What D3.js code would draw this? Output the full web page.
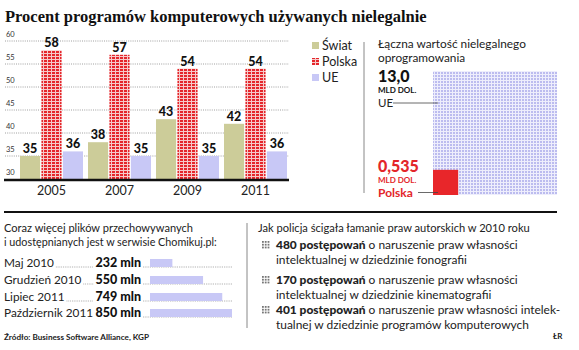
<!DOCTYPE html>
<html><head><meta charset="utf-8">
<script src="https://cdn.jsdelivr.net/npm/d3@7"></script>
<style>
body{margin:0;background:#fff;}
svg{display:block;font-family:Lato,"Open Sans",sans-serif;}
</style></head>
<body>
<script>
const years = ["2005","2007","2009","2011"];
const seriesNames = ["Świat","Polska","UE"];
const swiat = [35,38,43,42];
const polska = [58,57,54,54];
const ue = [36,35,35,36];
const yTicks = [30,35,40,45,50,55,60];

const valueLabels = ["UE","Polska"];
const valueAmounts = [13.0,0.535];
const valueTexts = ["13,0","0,535"];

const chomikMonths = ["Maj 2010","Grudzień 2010","Lipiec 2011","Październik 2011"];
const chomikFiles = [232,550,749,850];

const policeCounts = ["480","170","401"];
const policeLine1 = [" o naruszenie praw własności"," o naruszenie praw własności"," o naruszenie praw własności intelek-"];
const policeLine2 = ["intelektualnej w dziedzinie fonografii","intelektualnej w dziedzinie kinematografii","tualnej w dziedzinie programów komputerowych"];

const W=579,H=350;
const svg=d3.select("body").append("svg").attr("width",W).attr("height",H);
const defs=svg.append("defs");
const pp=defs.append("pattern").attr("id","pl").attr("width",4).attr("height",3).attr("patternUnits","userSpaceOnUse");
pp.append("rect").attr("width",4).attr("height",3).attr("fill","#f6c9c9");
pp.append("rect").attr("width",3).attr("height",2).attr("fill","#e4262b");
const up=defs.append("pattern").attr("id","ue").attr("width",3).attr("height",3).attr("patternUnits","userSpaceOnUse");
up.append("rect").attr("width",3).attr("height",3).attr("fill","#eeeefc");
up.append("rect").attr("width",2).attr("height",2).attr("fill","#bcbcef");

const colors={"Świat":"#cccc99","Polska":"url(#pl)","UE":"#c8c8f6"};

function fit(sel,width){
  const n=sel.node();
  const fs=parseFloat(sel.attr("font-size"));
  const w=n.getComputedTextLength();
  if(w>0) sel.attr("font-size",(fs*width/w).toFixed(2));
  return sel;
}

// Title
fit(svg.append("text").attr("x",5).attr("y",22).attr("font-family","'Liberation Serif','DejaVu Serif',serif")
  .attr("font-weight","bold").attr("font-size",17).attr("fill","#111")
  .text("Procent programów komputerowych używanych nielegalnie"),422);

// Bar chart
const y=d3.scaleLinear().domain([30,60]).range([179,41]);
const x0=d3.scaleBand().domain(years).range([20,292]);
const x1=d3.scaleBand().domain(seriesNames).range([0,63]).paddingInner(0.06);
const data=years.map((yr,i)=>({year:yr,vals:[swiat[i],polska[i],ue[i]]}));

const grid=svg.append("g");
yTicks.forEach(t=>{
  if(t>30) grid.append("line").attr("x1",5).attr("x2",289).attr("y1",y(t)).attr("y2",y(t))
    .attr("stroke","#888").attr("stroke-width",0.8).attr("stroke-dasharray","1,1.2");
  grid.append("text").attr("x",6).attr("y",y(t)-4).attr("font-size",7.5).attr("fill","#333").text(t);
});

const groups=svg.append("g").selectAll("g").data(data).join("g")
  .attr("transform",d=>`translate(${x0(d.year)},0)`);
groups.selectAll("rect").data(d=>d.vals.map((v,j)=>({s:seriesNames[j],v}))).join("rect")
  .attr("x",d=>x1(d.s)).attr("width",x1.bandwidth()).attr("y",d=>y(d.v)).attr("height",d=>y(30)-y(d.v))
  .attr("fill",d=>colors[d.s]);
groups.selectAll("text.v").data(d=>d.vals.map((v,j)=>({s:seriesNames[j],v}))).join("text").attr("class","v")
  .attr("x",d=>x1(d.s)+x1.bandwidth()/2).attr("y",d=>y(d.v)-3).attr("text-anchor","middle")
  .attr("font-weight","900").attr("font-size",12.5).attr("fill","#111").text(d=>d.v);
groups.append("text").attr("x",x1("Polska")+x1.bandwidth()/2).attr("y",195).attr("text-anchor","middle")
  .attr("font-size",12.5).attr("fill","#222").text(d=>d.year);

svg.append("line").attr("x1",4).attr("x2",289).attr("y1",y(30)+1).attr("y2",y(30)+1).attr("stroke","#111").attr("stroke-width",2.5);

// Legend
const lg=svg.append("g");
seriesNames.forEach((s,i)=>{
  lg.append("rect").attr("x",312).attr("y",42+i*16).attr("width",7).attr("height",7).attr("fill",colors[s]);
  lg.append("text").attr("x",322).attr("y",49.5+i*16).attr("font-size",12.5).attr("fill","#222").text(s);
});

svg.append("line").attr("x1",364).attr("x2",364).attr("y1",42).attr("y2",193).attr("stroke","#888").attr("stroke-width",1);

// Right panel
const hdr=fit(svg.append("text").attr("x",378).attr("y",48).attr("font-size",12).attr("fill","#222").text("Łączna wartość nielegalnego"),148);
svg.append("text").attr("x",378).attr("y",62).attr("font-size",hdr.attr("font-size")).attr("fill","#222").text("oprogramowania");
const side=d3.scaleSqrt().domain([0,13]).range([0,124]);
const sqX=433,sqB=195;
svg.append("rect").attr("x",sqX).attr("y",sqB-side(valueAmounts[0])).attr("width",side(valueAmounts[0])).attr("height",side(valueAmounts[0])).attr("fill","url(#ue)");
svg.append("rect").attr("x",sqX).attr("y",sqB-side(valueAmounts[1])).attr("width",side(valueAmounts[1])).attr("height",side(valueAmounts[1])).attr("fill","#e8262a");

svg.append("text").attr("x",378).attr("y",82).attr("font-weight","900").attr("font-size",16).attr("fill","#111").text(valueTexts[0]);
svg.append("text").attr("x",378).attr("y",93).attr("font-weight","bold").attr("font-size",8).attr("fill","#111").text("MLD DOL.");
svg.append("text").attr("x",378).attr("y",107).attr("font-size",11.5).attr("fill","#222").text(valueLabels[0]);
svg.append("line").attr("x1",393).attr("x2",438).attr("y1",103).attr("y2",103).attr("stroke","#444").attr("stroke-width",0.8);

svg.append("text").attr("x",378).attr("y",172).attr("font-weight","900").attr("font-size",16).attr("fill","#e3262a").text(valueTexts[1]);
svg.append("text").attr("x",378).attr("y",183).attr("font-weight","bold").attr("font-size",8).attr("fill","#e3262a").text("MLD DOL.");
svg.append("text").attr("x",378).attr("y",196.5).attr("font-weight","bold").attr("font-size",12).attr("fill","#e3262a").text(valueLabels[1]);
svg.append("line").attr("x1",418).attr("x2",438).attr("y1",192.5).attr("y2",192.5).attr("stroke","#444").attr("stroke-width",0.8);

svg.append("line").attr("x1",4).attr("x2",557).attr("y1",212).attr("y2",212).attr("stroke","#111").attr("stroke-width",2);

// Bottom left
fit(svg.append("text").attr("x",4).attr("y",232).attr("font-size",12).attr("fill","#222").text("Coraz więcej plików przechowywanych"),189);
fit(svg.append("text").attr("x",4).attr("y",246).attr("font-size",12).attr("fill","#222").text("i udostępnianych jest w serwisie Chomikuj.pl:"),213);

const bx=d3.scaleLinear().domain([0,850]).range([0,82]);
const rowY=[267,284,301,317];
const lfs=11.8;
chomikMonths.forEach((m,i)=>{
  const by=rowY[i];
  const lt=svg.append("text").attr("x",4).attr("y",by).attr("font-size",lfs).attr("fill","#222").text(m);
  const lend=4+lt.node().getComputedTextLength();
  const vt=svg.append("text").attr("x",141).attr("y",by).attr("text-anchor","end").attr("font-weight","900")
    .attr("font-size",12.5).attr("fill","#111").text(chomikFiles[i]+" mln");
  const vstart=141-vt.node().getComputedTextLength();
  if(vstart-2>lend+2) svg.append("line").attr("x1",lend+2).attr("x2",vstart-2).attr("y1",by).attr("y2",by)
    .attr("stroke","#777").attr("stroke-width",0.7).attr("stroke-dasharray","0.8,1");
  svg.append("line").attr("x1",143).attr("x2",233).attr("y1",by).attr("y2",by)
    .attr("stroke","#777").attr("stroke-width",0.7).attr("stroke-dasharray","0.8,1");
  svg.append("rect").attr("x",150).attr("y",by-8).attr("width",bx(chomikFiles[i])).attr("height",8).attr("fill","#c8c8f6");
});

fit(svg.append("text").attr("x",4).attr("y",340).attr("font-weight","bold").attr("font-size",9).attr("fill","#222")
  .text("Źródło: Business Software Alliance, KGP"),145);

svg.append("line").attr("x1",247).attr("x2",247).attr("y1",223).attr("y2",328).attr("stroke","#888").attr("stroke-width",1);

// Bottom right
fit(svg.append("text").attr("x",258).attr("y",232).attr("font-size",12).attr("fill","#222")
  .text("Jak policja ścigała łamanie praw autorskich w 2010 roku"),272);
const itemY=[249,284,314];
let pfs=null;
policeCounts.forEach((c,i)=>{
  const iy=itemY[i];
  const ic=svg.append("g").attr("transform",`translate(262,${iy-8})`);
  for(let a=0;a<3;a++)for(let b=0;b<3;b++)
    ic.append("rect").attr("x",a*2.8).attr("y",b*2.8).attr("width",1.8).attr("height",1.8).attr("fill","#777");
  const t=svg.append("text").attr("x",276).attr("y",iy).attr("font-size",pfs||12.5).attr("fill","#222");
  t.append("tspan").attr("font-weight","900").text(c+" postępowań");
  t.append("tspan").text(policeLine1[i]);
  if(i===0){ fit(t,242); pfs=t.attr("font-size"); }
  svg.append("text").attr("x",276).attr("y",iy+15).attr("font-size",pfs).attr("fill","#222").text(policeLine2[i]);
});
svg.append("text").attr("x",553).attr("y",339).attr("font-weight","bold").attr("font-size",8).attr("fill","#222").text("ŁR");
</script>
</body></html>
